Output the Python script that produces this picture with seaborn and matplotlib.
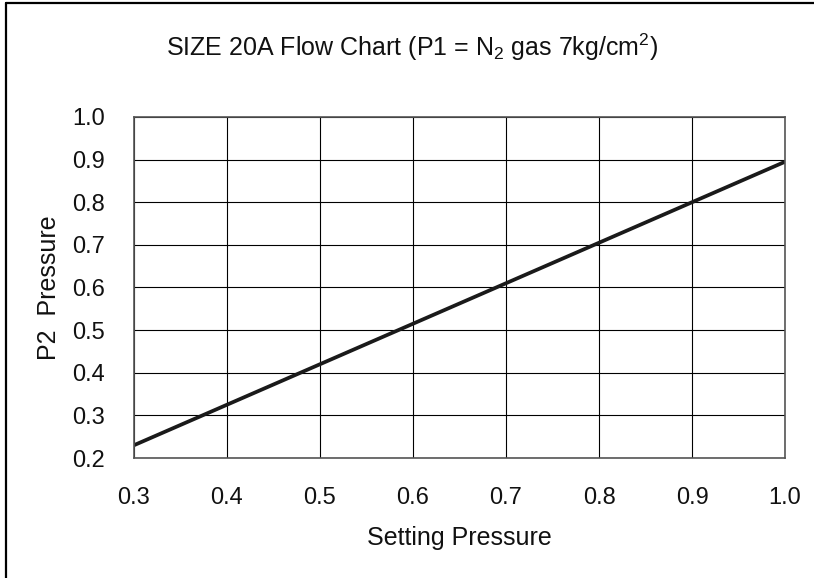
import pandas as pd
import numpy as np
import matplotlib.pyplot as plt
import seaborn as sns
from matplotlib.lines import Line2D

# Valores
setting_pressure = [0.3, 0.4, 0.5, 0.6, 0.7, 0.8, 0.9, 1.0]
p2_pressure = [0.23, 0.325, 0.42, 0.515, 0.61, 0.705, 0.80, 0.895]
x_ticks = [0.3, 0.4, 0.5, 0.6, 0.7, 0.8, 0.9, 1.0]
y_ticks = [0.2, 0.3, 0.4, 0.5, 0.6, 0.7, 0.8, 0.9, 1.0]

df = pd.DataFrame({"setting": setting_pressure, "p2": p2_pressure})

sns.set_style("white")
plt.rcParams["font.family"] = ["Liberation Sans", "DejaVu Sans"]
plt.rcParams["mathtext.fontset"] = "custom"
plt.rcParams["mathtext.rm"] = "Liberation Sans"

fig = plt.figure(figsize=(8.14, 5.78), dpi=100)
ax = fig.add_axes([0.1646, 0.2076, 0.7998, 0.59])

sns.lineplot(data=df, x="setting", y="p2", ax=ax, color="#1a1a1a", linewidth=2.7)

ax.set_xlim(0.3, 1.0)
ax.set_ylim(0.2, 1.0)
ax.set_xticks(x_ticks)
ax.set_yticks(y_ticks)
ax.set_xticklabels([f"{v:.1f}" for v in x_ticks])
ax.set_yticklabels([f"{v:.1f}" for v in y_ticks])
ax.grid(True, color="black", linewidth=0.8)
ax.tick_params(length=0, labelsize=17, pad=21, colors="#111111")
for s in ax.spines.values():
    s.set_color("#555555")
    s.set_linewidth(1.2)

ax.set_xlabel("Setting Pressure", fontsize=18, labelpad=12, color="#111111")
ax.set_ylabel("P2  Pressure", fontsize=18, labelpad=8, color="#111111")

fig.text(0.506, 0.918,
         r"SIZE 20A Flow Chart (P1 = N$\mathregular{_2}$ gas 7kg/cm$\mathregular{^2}$)",
         ha="center", va="center", fontsize=18, color="#111111")

# marco exterior (solo izquierda y arriba visibles)
fig.add_artist(Line2D([0.007, 0.007], [0.0, 0.995], transform=fig.transFigure, color="black", linewidth=1.6))
fig.add_artist(Line2D([0.007, 1.0], [0.995, 0.995], transform=fig.transFigure, color="black", linewidth=1.6))

fig.savefig("out.png", dpi=100)
